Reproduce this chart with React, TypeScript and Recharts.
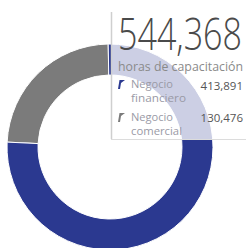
import React from "react";
import { PieChart, Pie, Cell } from "recharts";

const segmentNames = ["Negocio comercial", "Negocio financiero"];
const segmentValues = [130476, 413891];
const segmentColors = ["#7b7b7b", "#2b3990"];
const totalLabel = "544,368";
const subtitle = "horas de capacitación";
const legendLines = [
  ["Negocio", "financiero"],
  ["Negocio", "comercial"],
];
const legendValues = ["413,891", "130,476"];
const legendColors = ["#2b3990", "#7b7b7b"];

const data = segmentNames.map((name, i) => ({ name, value: segmentValues[i] }));

const Marker = ({ x, y, color }: { x: number; y: number; color: string }) => (
  <polygon
    points={`${x},${y + 9} ${x + 1.5},${y} ${x + 7},${y} ${x + 3},${y + 3} ${x + 2},${y + 9}`}
    fill={color}
  />
);

export default function App() {
  const rows = [
    { top: 79, valueY: 90, w1: 42, w2: 55 },
    { top: 112, valueY: 122, w1: 42, w2: 51 },
  ];
  return (
    <div style={{ position: "absolute", left: 0, top: 0, width: 246, height: 248, overflow: "hidden", background: "#fff" }}>
      <div style={{ position: "absolute", left: 0, top: 0 }}>
        <PieChart width={246} height={248} margin={{ top: 0, right: 0, bottom: 0, left: 0 }}>
          <Pie
            data={data}
            dataKey="value"
            cx={110}
            cy={147}
            innerRadius={72}
            outerRadius={103}
            startAngle={91}
            endAngle={451}
            stroke="#ffffff"
            strokeWidth={1}
            isAnimationActive={false}
          >
            {data.map((d, i) => (
              <Cell key={d.name} fill={segmentColors[i]} />
            ))}
          </Pie>
        </PieChart>
      </div>
      <svg
        width={246}
        height={248}
        style={{ position: "absolute", left: 0, top: 0, zIndex: 2 }}
        fontFamily="'Open Sans', sans-serif"
      >
        <rect x={111} y={10} width={135} height={129} fill="#ffffff" opacity={0.76} />
        <line x1={111.5} y1={12} x2={111.5} y2={139} stroke="#cfcfcf" strokeWidth={1.5} />
        <line x1={111} y1={139.5} x2={246} y2={139.5} stroke="#dcdcdc" strokeWidth={1} />
        <text x={118} y={50} fontSize={45} fontWeight={300} fill="#4a4a4a" textLength={124} lengthAdjust="spacingAndGlyphs">
          {totalLabel}
        </text>
        <text x={118} y={71} fontSize={12} fill="#8a8a8a" textLength={125} lengthAdjust="spacingAndGlyphs">
          {subtitle}
        </text>
        {rows.map((r, i) => (
          <g key={i}>
            <Marker x={118} y={r.top + 1} color={legendColors[i]} />
            <text x={131} y={r.top + 9} fontSize={11.5} fill="#9a9aa6" textLength={r.w1} lengthAdjust="spacingAndGlyphs">
              {legendLines[i][0]}
            </text>
            <text x={131} y={r.top + 23} fontSize={11.5} fill="#9a9aa6" textLength={r.w2} lengthAdjust="spacingAndGlyphs">
              {legendLines[i][1]}
            </text>
            <text x={243} y={r.valueY} fontSize={11.5} fill="#555555" textAnchor="end">
              {legendValues[i]}
            </text>
          </g>
        ))}
      </svg>
    </div>
  );
}
